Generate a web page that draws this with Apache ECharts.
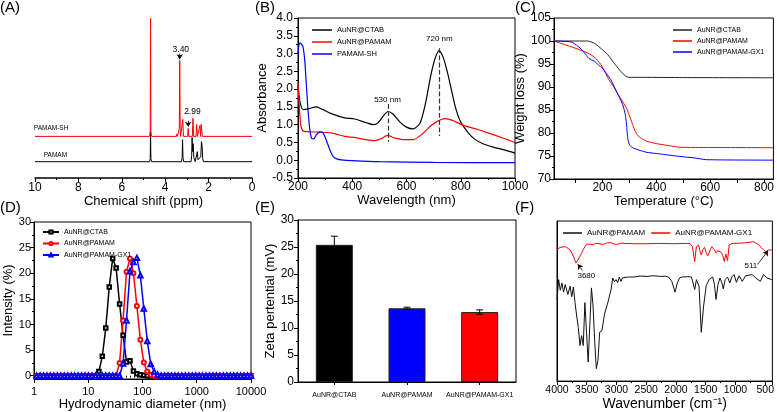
<!DOCTYPE html>
<html><head><meta charset="utf-8">
<script src="https://cdn.jsdelivr.net/npm/echarts/dist/echarts.min.js"></script>
<style>html,body{margin:0;padding:0;background:#fff}#c{width:777px;height:412px}</style>
</head><body><div id="c"></div>
<script>
// ---------- DATA ----------
// (A) 1H NMR: [ppm, intensity]
const nmrPAMAM = [[10,0],[4.72,0],[4.69,3],[4.675,30],[4.66,3],[4.63,0],[3.25,0],[3.22,4],[3.20,22],[3.18,4],[3.15,0],[2.81,0],[2.78,6],[2.76,24],[2.73,10],[2.71,18],[2.68,4],[2.62,0],[2.55,2],[2.52,10],[2.49,2],[2.40,0],[2.36,5],[2.33,20],[2.30,16],[2.27,3],[2.24,0],[0,0]];
const nmrPAMAMSH = [[10,0],[4.72,0],[4.69,5],[4.675,118],[4.66,5],[4.63,0],[3.48,0],[3.46,2.5],[3.44,0],[3.37,0],[3.35,8],[3.33,76],[3.31,8],[3.29,0],[3.22,0],[3.19,17],[3.16,0],[2.97,0],[2.94,8],[2.91,0],[2.75,0],[2.72,18],[2.69,0],[2.58,0],[2.55,12],[2.52,0],[2.43,0],[2.40,11],[2.37,0],[2.34,12],[2.32,10],[2.29,0],[0,0]];
const nmrOffset = 25.3;

// (B) UV-vis: [nm, absorbance]
const uvCTAB = [[200,2.1],[205,1.75],[212,1.5],[220,1.42],[240,1.45],[268,1.5],[290,1.43],[323,1.31],[372,1.19],[409,1.16],[450,1.06],[477,1.0],[495,1.05],[515,1.25],[532,1.37],[550,1.3],[575,1.08],[600,0.93],[625,0.88],[650,1.05],[670,1.6],[690,2.4],[705,2.85],[720,3.08],[735,2.9],[750,2.5],[765,2.0],[780,1.5],[795,1.15],[810,0.95],[830,0.75],[850,0.6],[880,0.47],[920,0.37],[960,0.29],[1000,0.2]];
const uvPAMAM = [[200,2.2],[204,1.6],[210,1.0],[218,0.83],[240,0.8],[280,0.79],[323,0.77],[372,0.67],[409,0.64],[450,0.58],[483,0.55],[505,0.6],[530,0.7],[555,0.63],[590,0.58],[625,0.58],[660,0.75],[690,0.97],[715,1.1],[742,1.17],[770,1.12],[810,0.98],[860,0.87],[900,0.77],[950,0.64],[1000,0.5]];
const uvSH = [[200,3.0],[203,3.22],[207,3.3],[212,3.27],[218,3.2],[225,2.8],[231,2.1],[237,1.4],[243,0.9],[250,0.62],[258,0.6],[268,0.72],[280,0.8],[292,0.77],[305,0.55],[318,0.28],[330,0.1],[345,0.03],[360,0.01],[400,-0.01],[500,-0.04],[700,-0.06],[1000,-0.07]];

// (C) TGA: [°C, weight %]
const tgaCTAB = [[20,100],[145,100],[170,99.5],[200,98.1],[220,97],[243,95.2],[265,93.6],[285,92.4],[298,92.1],[350,92.1],[500,92.05],[835,92.0]];
const tgaPAMAM = [[20,100],[60,99.2],[96,98.5],[145,97.4],[170,96.5],[194,94.9],[210,93.2],[224,91.6],[240,90.2],[255,88.7],[275,86.8],[292,85.1],[300,83.8],[310,82.2],[320,80.6],[329,79.6],[345,78.8],[365,78.2],[400,77.7],[463,77.1],[488,76.9],[600,76.85],[835,76.8]];
const tgaGX1 = [[20,100],[84,99.8],[108,98.9],[125,98],[139,97.0],[150,96.2],[170,95.6],[185,94.8],[200,94.1],[215,92.9],[231,91.6],[255,88.7],[273,86.5],[282,84.8],[286,83.6],[290,81.5],[292,80],[295,78.5],[298,77.8],[305,77.1],[316,76.7],[340,76.2],[365,75.8],[420,75.4],[488,74.9],[540,74.6],[586,74.2],[835,74.1]];

// (D) DLS: size bins (nm) and intensity (%)
const dlsSize = [1.117,1.294,1.499,1.736,2.010,2.328,2.696,3.122,3.615,4.187,4.849,5.615,6.503,7.531,8.721,10.10,11.70,13.54,15.69,18.17,21.04,24.36,28.21,32.67,37.84,43.82,50.75,58.77,68.06,78.82,91.28,105.7,122.4,141.8,164.2,190.1,220.2,255.0,295.3,342.0,396.1,458.7,531.2,615.1,712.4,825.0,955.4,1106,1281,1484,1718,1990,2305,2669,3091,3580,4145,4801,5560,6439,7456,8635,10000];
const dlsCTAB = [0,0,0,0,0,0,0,0,0,0, 0,0,0,0,0,0,0,0,0.8,3.8, 9.3,17.3,22.9,21.0,14.0,7.9,2.7,2.9,0.9,0.4, 0.2,0.1,0,0,0,0,0,0,0,0, 0,0,0,0,0,0,0,0,0,0, 0,0,0,0,0,0,0,0,0,0, 0,0,0];
const dlsPAMAM = [0,0,0,0,0,0,0,0,0,0, 0,0,0,0,0,0,0,0,0,0, 0,0,0,0,2.5,10.8,20.3,22.9,20.0,13.6, 7.0,2.6,0.8,0.2,0,0,0,0,0,0, 0,0,0,0,0,0,0,0,0,0, 0,0,0,0,0,0,0,0,0,0, 0,0,0];
const dlsGX1 = [0,0,0,0,0,0,0,0,0,0, 0,0,0,0,0,0,0,0,0,0, 0,0,0,0,0,2.4,10.8,20.4,22.2,23.0, 19.6,13.1,6.8,2.3,0.8,0.2,0,0,0,0, 0,0,0,0,0,0,0,0,0,0, 0,0,0,0,0,0,0,0,0,0, 0,0,0];

// (E) Zeta potential
const zetaCats = ['AuNR@CTAB','AuNR@PAMAM','AuNR@PAMAM-GX1'];
const zetaVals = [25.4,13.65,12.95];
const zetaErr = [1.6,0.2,0.4];

// (F) FTIR: [cm-1, transmittance (a.u.)]
const irPAMAM = [[4000,51],[3972,63.4],[3945,56.8],[3917,61.3],[3890,55.6],[3862,60.3],[3818,54.1],[3780,59.3],[3752,52.7],[3724,58.8],[3697,49],[3669,40.7],[3642,33.5],[3614,22.2],[3587,28.4],[3559,22.2],[3531,49],[3504,30.5],[3476,11.9],[3449,34.6],[3421,58.2],[3394,46.9],[3366,24.3],[3339,7.8],[3311,13],[3283,30.5],[3245,31.5],[3201,41.8],[3146,49],[3091,57.2],[3063,64.4],[3035,62],[3008,63.4],[2980,61.5],[2953,65],[2925,62.3],[2898,64.5],[2870,64.4],[2800,65],[2705,65],[2600,65.6],[2484,65.4],[2380,65.8],[2264,65.4],[2180,65.5],[2126,65],[2071,62.3],[2016,55.6],[1977,61.3],[1940,64.5],[1905,65],[1800,65.2],[1740,65],[1685,57.2],[1657,63.4],[1613,59.3],[1575,30.5],[1536,46.9],[1492,59.7],[1437,63.8],[1382,65],[1354,60.3],[1327,51],[1294,60.3],[1261,64.4],[1228,61.3],[1206,57.6],[1173,63.4],[1134,65],[1095,61.3],[1062,65],[1024,66.5],[985,61.7],[941,65.8],[886,62.3],[831,65.8],[720,66.5],[638,63.8],[583,62.3],[527,66.5],[472,64.4],[390,63.4]];
const irGX1 = [[4000,81.9],[3950,83.5],[3917,83.5],[3862,84],[3820,83],[3780,81.9],[3750,80],[3724,77.8],[3700,75.5],[3680,73.7],[3660,75],[3642,76.1],[3615,78],[3587,79.8],[3560,82],[3531,84],[3504,85.5],[3476,86.4],[3440,85.5],[3394,85],[3350,86],[3311,86],[3260,85.5],[3201,85.6],[3150,86.4],[3091,86.4],[3040,85.6],[2980,85.4],[2930,86.2],[2870,86],[2700,85.8],[2484,85.8],[2300,86],[2043,85.8],[1850,86],[1768,86],[1724,84],[1700,78],[1685,74.7],[1670,80],[1657,84],[1619,85],[1595,81],[1575,78.8],[1550,82],[1520,83.5],[1490,80],[1465,78.2],[1445,80],[1426,81.9],[1400,84],[1382,84],[1355,82],[1327,80.2],[1300,81.5],[1272,81.5],[1245,80.5],[1216,78.8],[1189,74.7],[1175,77],[1161,79.4],[1148,77],[1134,75.3],[1120,80],[1106,85],[1060,86],[1024,86],[900,86.2],[831,86.4],[760,86.8],[693,87],[650,86],[610,85.4],[570,83.5],[527,81.9],[489,80.9],[445,81.9],[390,81.9]];

// tick label values
const tgaTickLabels = [200,400,600,800];
const tgaTicks = [100,200,300,400,500,600,700,800];
const dlsYLabels = [0,5,10,15,20,25,30];
const dlsYMinor = [2.5,7.5,12.5,17.5,22.5,27.5];
const dlsXMinor = [2,3,4,5,6,7,8,9,20,30,40,50,60,70,80,90,200,300,400,500,600,700,800,900,2000,3000,4000,5000,6000,7000,8000,9000];

// ---------- CHART ----------
const FONT = "'Liberation Sans', Arial, sans-serif";
const BLACK = '#000', RED = '#ff0000', BLUE = '#0000ff';
const zw = n => '\u200b'.repeat(n);
const strip = s => s.replace(/\u200b/g,'');
const plain = v => String(v);
// wavenumber axis runs high -> low: plotted as negative value so ticks count from 4000
const neg = arr => arr.map(p => [-p[0], p[1]]);

function ax(o){
  const base = {
    type:'value',
    axisLine:{show:true,onZero:false,lineStyle:{color:'#000',width:1}},
    axisTick:{show:true,length:4,lineStyle:{color:'#000',width:1}},
    minorTick:{show:false},
    splitLine:{show:false},
    axisLabel:{color:'#000',fontSize:12,fontFamily:FONT,formatter:plain},
    nameTextStyle:{color:'#000',fontSize:13,fontFamily:FONT},
    nameLocation:'middle'
  };
  const r = Object.assign({}, base);
  for (const k in o){
    if (o[k] && typeof o[k]==='object' && !Array.isArray(o[k]) && base[k] && typeof base[k]==='object') r[k] = Object.assign({}, base[k], o[k]);
    else r[k] = o[k];
  }
  return r;
}
const minor = {show:true,splitNumber:2,length:2,lineStyle:{color:'#000',width:1}};
const gridBox = {show:true,borderColor:'#000',borderWidth:1,backgroundColor:'transparent'};

const txt = (name, coord, size) => ({name, coord, label:{fontSize:size||8}});
function textMarks(items){
  return {symbol:'circle',symbolSize:1,silent:true,itemStyle:{color:'rgba(0,0,0,0)'},
    label:{show:true,position:'inside',formatter:'{b}',color:'#000',fontFamily:FONT,fontSize:8},
    data:items};
}
function arrowMarks(items, dashed){
  return {silent:true,symbol:dashed?['none','none']:['none','arrow'],symbolSize:dashed?0:5,
    label:{show:false},lineStyle:{color:dashed?'#333':'#000',width:dashed?1.2:0.8,type:dashed?'dashed':'solid'},
    emphasis:{disabled:true},
    data:items.map(p=>[{coord:p[0]},{coord:p[1]}])};
}

const series = [];
// A
series.push({name:'nmrA1',type:'line',xAxisIndex:0,yAxisIndex:0,data:nmrPAMAM,symbol:'none',lineStyle:{color:BLACK,width:1},itemStyle:{color:BLACK},
  markPoint:textMarks([txt('PAMAM',[9.06,6.7],6.5)])});
series.push({name:'nmrA2',type:'line',xAxisIndex:0,yAxisIndex:0,data:nmrPAMAMSH.map(p=>[p[0],p[1]+nmrOffset]),symbol:'none',lineStyle:{color:RED,width:1},itemStyle:{color:RED},
  markPoint:textMarks([txt('PAMAM-SH',[9.26,33.7],6.5),txt('3.40',[3.28,111.7],8.5),txt('2.99',[2.74,50],8.5)]),
  markLine:arrowMarks([[[3.33,108],[3.33,102.5]],[[2.94,41],[2.94,35]]])});
// B
const nB = zw(1);
series.push({name:'AuNR@CTAB'+nB,type:'line',xAxisIndex:1,yAxisIndex:1,data:uvCTAB,symbol:'none',smooth:0.25,lineStyle:{color:BLACK,width:1.2},itemStyle:{color:BLACK},
  markLine:arrowMarks([[[532,1.58],[532,0.52]],[[720,3.15],[720,0.68]]],true),
  markPoint:textMarks([txt('530 nm',[530,1.69]),txt('720 nm',[721,3.41])])});
series.push({name:'AuNR@PAMAM'+nB,type:'line',xAxisIndex:1,yAxisIndex:1,data:uvPAMAM,symbol:'none',smooth:0.25,lineStyle:{color:RED,width:1.2},itemStyle:{color:RED}});
series.push({name:'PAMAM-SH'+nB,type:'line',xAxisIndex:1,yAxisIndex:1,data:uvSH,symbol:'none',smooth:0.25,lineStyle:{color:BLUE,width:1.2},itemStyle:{color:BLUE}});
// C
const nC = zw(2);
series.push({name:'AuNR@CTAB'+nC,type:'line',xAxisIndex:2,yAxisIndex:2,data:tgaCTAB,symbol:'none',smooth:0.2,lineStyle:{color:'#222',width:1},itemStyle:{color:'#222'}});
series.push({name:'AuNR@PAMAM'+nC,type:'line',xAxisIndex:2,yAxisIndex:2,data:tgaPAMAM,symbol:'none',smooth:0.2,lineStyle:{color:RED,width:1},itemStyle:{color:RED}});
series.push({name:'AuNR@PAMAM-GX1'+nC,type:'line',xAxisIndex:2,yAxisIndex:2,data:tgaGX1,symbol:'none',smooth:0.2,lineStyle:{color:BLUE,width:1},itemStyle:{color:BLUE}});
// D
const nD = zw(3);
const dl = (vals) => dlsSize.map((s,i)=>[s,vals[i]]);
series.push({name:'AuNR@CTAB'+nD,type:'line',xAxisIndex:3,yAxisIndex:3,data:dl(dlsCTAB),symbol:'emptyRect',symbolSize:3.5,showAllSymbol:true,lineStyle:{color:BLACK,width:1.5},itemStyle:{color:BLACK,borderWidth:0.8}});
series.push({name:'AuNR@PAMAM'+nD,type:'line',xAxisIndex:3,yAxisIndex:3,data:dl(dlsPAMAM),symbol:'emptyCircle',symbolSize:4,showAllSymbol:true,lineStyle:{color:RED,width:1.5},itemStyle:{color:RED,borderWidth:0.8}});
series.push({name:'AuNR@PAMAM-GX1'+nD,type:'line',xAxisIndex:3,yAxisIndex:3,data:dl(dlsGX1),symbol:'emptyTriangle',symbolSize:4.5,showAllSymbol:true,lineStyle:{color:BLUE,width:1.5},itemStyle:{color:BLUE,borderWidth:0.8}});
// E
const barColors = [BLACK, BLUE, RED];
series.push({name:'zeta',type:'bar',xAxisIndex:4,yAxisIndex:4,barWidth:37,
  data:zetaVals.map((v,i)=>({value:v,itemStyle:{color:barColors[i]}})),
  itemStyle:{borderColor:'#222',borderWidth:1}});
series.push({name:'zetaErr',type:'custom',xAxisIndex:4,yAxisIndex:4,z:10,
  data:zetaVals.map((v,i)=>[i,v,zetaErr[i]]),encode:{x:0,y:1},
  renderItem:(params,api)=>{
    const i=api.value(0), v=api.value(1), e=api.value(2);
    const t=api.coord([i,v+e]), b=api.coord([i,v-e]); const w=3.5;
    const st={stroke:'#000',lineWidth:1};
    return {type:'group',children:[
      {type:'line',shape:{x1:t[0],y1:t[1],x2:b[0],y2:b[1]},style:st},
      {type:'line',shape:{x1:t[0]-w,y1:t[1],x2:t[0]+w,y2:t[1]},style:st},
      {type:'line',shape:{x1:b[0]-w,y1:b[1],x2:b[0]+w,y2:b[1]},style:st}]};
  }});
// F
const nF = zw(4);
series.push({name:'AuNR@PAMAM'+nF,type:'line',xAxisIndex:5,yAxisIndex:5,data:neg(irPAMAM),symbol:'none',lineStyle:{color:'#111',width:1},itemStyle:{color:'#111'}});
series.push({name:'AuNR@PAMAM-GX1'+nF,type:'line',xAxisIndex:5,yAxisIndex:5,data:neg(irGX1),symbol:'none',lineStyle:{color:RED,width:1},itemStyle:{color:RED},
  markLine:arrowMarks([[[-3573,69.1],[-3650,73.0]],[[-630,72.8],[-452,81.4]]]),
  markPoint:textMarks([txt('3680',[-3507,65.6]),txt('511',[-741,71.8])])});

const legText = {color:'#000',fontFamily:FONT,fontSize:7.5,lineHeight:9};
const lineLeg = (names, o) => Object.assign({selectedMode:false,formatter:strip,textStyle:legText,icon:'rect',itemHeight:1.5,
  data:names.map(n=>({name:n}))}, o);

const option = {
  animation:false,
  backgroundColor:'#fff',
  textStyle:{fontFamily:FONT},
  grid:[
    {left:35,top:10,width:217,height:168},
    Object.assign({left:298,top:18,width:217,height:160},gridBox),
    Object.assign({left:554,top:18,width:222,height:161},gridBox),
    Object.assign({left:34,top:222,width:217,height:157},gridBox),
    Object.assign({left:298,top:220,width:218,height:162},gridBox),
    Object.assign({left:557,top:221,width:218,height:162},gridBox)
  ],
  xAxis:[
    ax({gridIndex:0,min:0,max:10,interval:2,inverse:true,axisLine:{lineStyle:{color:'#000',width:1.5}},minorTick:minor,axisLabel:{margin:4},name:'Chemical shift (ppm)',nameGap:17}),
    ax({gridIndex:1,min:200,max:1000,interval:200,minorTick:minor,axisLabel:{margin:3},name:'Wavelength (nm)',nameGap:16}),
    ax({gridIndex:2,min:20,max:835,axisLabel:{margin:3,customValues:tgaTickLabels},axisTick:{customValues:tgaTicks},name:'Temperature (°C)',nameGap:16}),
    ax({gridIndex:3,type:'log',logBase:10,min:1,max:10000,axisLabel:{margin:7,fontSize:11},name:'Hydrodynamic diameter (nm)',nameGap:16}),
    ax({gridIndex:4,type:'category',data:zetaCats,axisTick:{alignWithLabel:true,length:3},axisLabel:{fontSize:7,margin:10,interval:0,formatter:null}}),
    ax({gridIndex:5,min:-4000,max:-380,interval:500,minorTick:minor,axisLabel:{fontSize:10.5,margin:4,formatter:v=>String(-v)},name:'Wavenumber (cm⁻¹)',nameGap:13,nameTextStyle:{fontSize:14}}),
    // D minor ticks (log decades)
    {gridIndex:3,type:'log',logBase:10,min:1,max:10000,position:'bottom',offset:0,
      axisLine:{show:false},axisLabel:{show:false},splitLine:{show:false},
      axisTick:{show:true,length:2,customValues:dlsXMinor,lineStyle:{color:'#000',width:1}}}
  ],
  yAxis:[
    {gridIndex:0,type:'value',min:-16.3,max:151.7,show:false},
    ax({gridIndex:1,min:-0.5,max:4,interval:0.5,minorTick:minor,axisLabel:{margin:5,formatter:v=>v.toFixed(1)},name:'Absorbance',nameGap:24}),
    ax({gridIndex:2,min:70,max:105,interval:5,minorTick:minor,axisLabel:{margin:3},name:'Weight loss (%)',nameGap:20}),
    ax({gridIndex:3,min:-0.64,max:30,axisLabel:{margin:3,fontSize:11,customValues:dlsYLabels},axisTick:{customValues:dlsYLabels},name:'Intensity (%)',nameGap:19}),
    ax({gridIndex:4,min:0,max:30,interval:5,minorTick:minor,axisLabel:{margin:4},name:'Zeta pertential (mV)',nameGap:21}),
    ax({gridIndex:5,min:0,max:100,axisTick:{show:false},axisLabel:{show:false}}),
    // D minor ticks (y)
    {gridIndex:3,type:'value',min:-0.64,max:30,position:'left',offset:0,
      axisLine:{show:false},axisLabel:{show:false},splitLine:{show:false},
      axisTick:{show:true,length:2,customValues:dlsYMinor,lineStyle:{color:'#000',width:1}}}
  ],
  legend:[
    lineLeg(['AuNR@CTAB'+nB,'AuNR@PAMAM'+nB,'PAMAM-SH'+nB],{orient:'vertical',left:307,top:20.5,itemWidth:20,itemGap:3}),
    lineLeg(['AuNR@CTAB'+nC,'AuNR@PAMAM'+nC,'AuNR@PAMAM-GX1'+nC],{orient:'vertical',left:668,top:20.5,itemWidth:19,itemGap:2,textStyle:Object.assign({},legText,{fontSize:7})}),
    {selectedMode:false,formatter:strip,textStyle:Object.assign({},legText,{fontSize:7}),orient:'vertical',left:37,top:222.5,itemWidth:16,itemHeight:4,itemGap:2.5,
      data:['AuNR@CTAB'+nD,'AuNR@PAMAM'+nD,'AuNR@PAMAM-GX1'+nD]},
    lineLeg(['AuNR@PAMAM'+nF,'AuNR@PAMAM-GX1'+nF],{orient:'horizontal',left:558,top:223.5,itemWidth:19,itemGap:6,textStyle:Object.assign({},legText,{fontSize:8})})
  ],
  graphic:[
    {type:'text',left:0,top:0.5,style:{text:'(A)',font:'15px '+FONT,fill:'#000'}},
    {type:'text',left:255,top:0.5,style:{text:'(B)',font:'15px '+FONT,fill:'#000'}},
    {type:'text',left:515,top:0.5,style:{text:'(C)',font:'15px '+FONT,fill:'#000'}},
    {type:'text',left:0,top:200.5,style:{text:'(D)',font:'15px '+FONT,fill:'#000'}},
    {type:'text',left:255,top:200.5,style:{text:'(E)',font:'15px '+FONT,fill:'#000'}},
    {type:'text',left:515,top:200.5,style:{text:'(F)',font:'15px '+FONT,fill:'#000'}}
  ],
  series
};
const chart = echarts.init(document.getElementById('c'),null,{renderer:'canvas'});
chart.setOption(option);
</script></body></html>
